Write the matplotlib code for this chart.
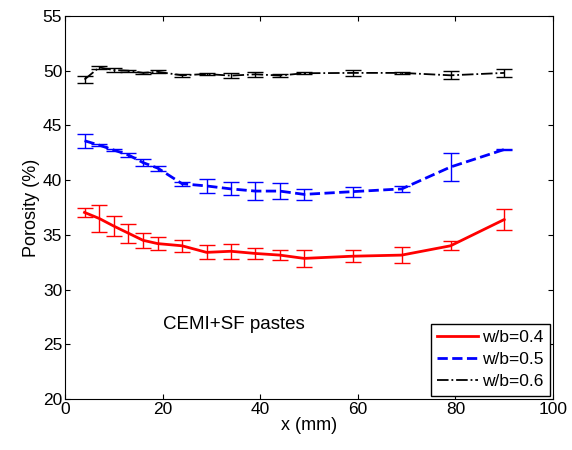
import numpy as np
import matplotlib
matplotlib.use("Agg")
import matplotlib.pyplot as plt

plt.rcParams['font.family'] = ['Liberation Sans', 'DejaVu Sans']

x = [4, 7, 10, 13, 16, 19, 24, 29, 34, 39, 44, 49, 59, 69, 79, 90]

wb04 = [37.05, 36.5, 35.8, 35.15, 34.5, 34.2, 34.0, 33.4, 33.5, 33.3, 33.15, 32.85, 33.05, 33.15, 34.0, 36.4]
wb04_err = [0.45, 1.2, 0.9, 0.85, 0.7, 0.6, 0.55, 0.65, 0.7, 0.5, 0.45, 0.75, 0.55, 0.7, 0.4, 1.0]

wb05 = [43.6, 43.2, 42.75, 42.3, 41.6, 41.1, 39.67, 39.47, 39.2, 39.0, 39.0, 38.7, 38.95, 39.2, 41.2, 42.8]
wb05_err = [0.65, 0.12, 0.1, 0.15, 0.3, 0.22, 0.2, 0.65, 0.6, 0.8, 0.75, 0.5, 0.45, 0.3, 1.3, 0.08]

wb06 = [49.2, 50.3, 50.06, 50.0, 49.8, 49.9, 49.58, 49.7, 49.55, 49.67, 49.56, 49.77, 49.8, 49.8, 49.58, 49.8]
wb06_err = [0.35, 0.15, 0.18, 0.1, 0.1, 0.15, 0.12, 0.05, 0.2, 0.2, 0.1, 0.08, 0.25, 0.1, 0.35, 0.33]

fig = plt.figure(figsize=(5.72, 4.5), dpi=100)
ax = fig.add_axes([65/572, 1 - 399/450, 488/572, 383/450])

ax.errorbar(x, wb04, yerr=wb04_err, color="red", linestyle="-", linewidth=2,
            elinewidth=1, capsize=6, label="w/b=0.4")
ax.errorbar(x, wb05, yerr=wb05_err, color="blue", linestyle="--", linewidth=2,
            elinewidth=1, capsize=6, label="w/b=0.5")
ax.errorbar(x, wb06, yerr=wb06_err, color="black", linestyle="-.", linewidth=1.3,
            elinewidth=1, capsize=6, label="w/b=0.6")

ax.set_xlim(0, 100)
ax.set_ylim(20, 55)
ax.set_xticks(range(0, 101, 20))
ax.set_yticks(range(20, 56, 5))
ax.tick_params(direction="in", top=True, right=True, labelsize=12.5, pad=2)
ax.set_xlabel("x (mm)", fontsize=13, labelpad=0)
ax.set_ylabel("Porosity (%)", fontsize=13, labelpad=2)

ax.text(20.1, 26.8, "CEMI+SF pastes", fontsize=13.5, va="center")

handles, labels = ax.get_legend_handles_labels()
handles = [h[0] for h in handles]
ax.legend(handles, labels, loc="lower right", fontsize=12.5, fancybox=False,
          edgecolor="black", framealpha=1, handlelength=2.4, borderaxespad=0.2,
          labelspacing=0.4, handletextpad=0.2, borderpad=0.35)

fig.savefig("out.png", dpi=100)
